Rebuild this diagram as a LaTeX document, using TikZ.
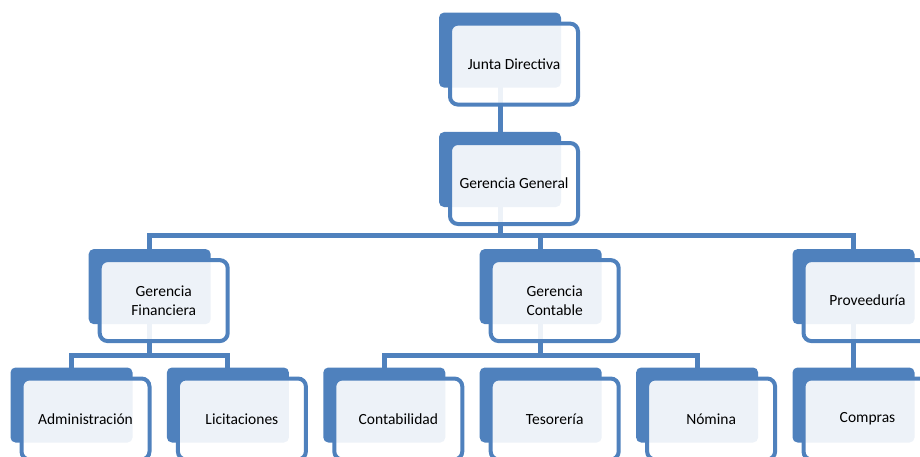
\documentclass[tikz,border=0pt]{standalone}
\usepackage{fontspec}
\setmainfont{Carlito}
\usepackage{tikz}
\usetikzlibrary{positioning, calc}
\definecolor{orgblue}{HTML}{4F81BD}
\pgfdeclarelayer{bg}
\pgfsetlayers{bg,main}

\begin{document}
\begin{tikzpicture}[
  x=1pt, y=1pt,
  back/.style={fill=orgblue, rounded corners=5pt, minimum width=122pt, minimum height=75pt, inner sep=0pt},
  front/.style={draw=orgblue, line width=4pt, fill=white, fill opacity=0.9, text opacity=1,
    rounded corners=8pt, minimum width=128pt, minimum height=81pt, inner sep=0pt,
    align=center, font=\fontsize{15.5}{18.5}\selectfont},
  conn/.style={draw=orgblue, line width=5pt}
]
  \useasboundingbox (0,0) rectangle (920,456);
  \clip (0,0) rectangle (920,456);

  % 1. Bottom level (back boxes)
  \node[back] (adm-b) at (71.5,51) {};
  \node[back, right=34pt of adm-b] (lic-b) {};
  \node[back, right=34pt of lic-b] (cont-b) {};
  \node[back, right=34pt of cont-b] (tes-b) {};
  \node[back, right=34pt of tes-b] (nom-b) {};
  \node[back, right=34pt of nom-b] (comp-b) {};

  % 2. Middle level
  \path (adm-b.north) -- (lic-b.north) coordinate[midway] (mid);
  \node[back, above=43pt of mid] (gf-b) {};
  \node[back, above=43pt of tes-b] (gc-b) {};
  \node[back, above=43pt of comp-b] (prov-b) {};

  % 3. Top levels
  \node[back] (gg-b) at (500,286.5) {};
  \node[back, above=44pt of gg-b] (jd-b) {};

  % 4. Connectors (behind the boxes)
  \coordinate (bus) at (0,221);
  \coordinate (sub) at (0,101);
  \begin{pgfonlayer}{bg}
    \draw[conn] (jd-b.center) -- (gg-b.center);
    \draw[conn] (gg-b.center) -- (gg-b.center |- bus);
    \draw[conn] (gf-b.center) |- (prov-b.center |- bus) -- (prov-b.center);
    \draw[conn] (gc-b.center) -- (gc-b.center |- bus);
    \draw[conn] (gf-b.center) -- (gf-b.center |- sub);
    \draw[conn] (adm-b.center) |- (lic-b.center |- sub) -- (lic-b.center);
    \draw[conn] (gc-b.center) -- (gc-b.center |- sub);
    \draw[conn] (cont-b.center) |- (nom-b.center |- sub) -- (nom-b.center);
    \draw[conn] (prov-b.center) -- (comp-b.center);
  \end{pgfonlayer}

  % 5. Text boxes in front
  \node[front] (jd) at ($(jd-b)+(14,-14)$) {Junta Directiva};
  \node[front] (gg) at ($(gg-b)+(14,-14)$) {Gerencia General};
  \node[front] (gf) at ($(gf-b)+(14,-14)$) {Gerencia\\Financiera};
  \node[front] (gc) at ($(gc-b)+(14,-14)$) {Gerencia\\Contable};
  \node[front] (prov) at ($(prov-b)+(14,-14)$) {Proveeduría};
  \node[front] (adm) at ($(adm-b)+(14,-14)$) {Administración};
  \node[front] (lic) at ($(lic-b)+(14,-14)$) {Licitaciones};
  \node[front] (cont) at ($(cont-b)+(14,-14)$) {Contabilidad};
  \node[front] (tes) at ($(tes-b)+(14,-14)$) {Tesorería};
  \node[front] (nom) at ($(nom-b)+(14,-14)$) {Nómina};
  \node[front] (comp) at ($(comp-b)+(14,-14)$) {Compras};

\end{tikzpicture}
\end{document}
